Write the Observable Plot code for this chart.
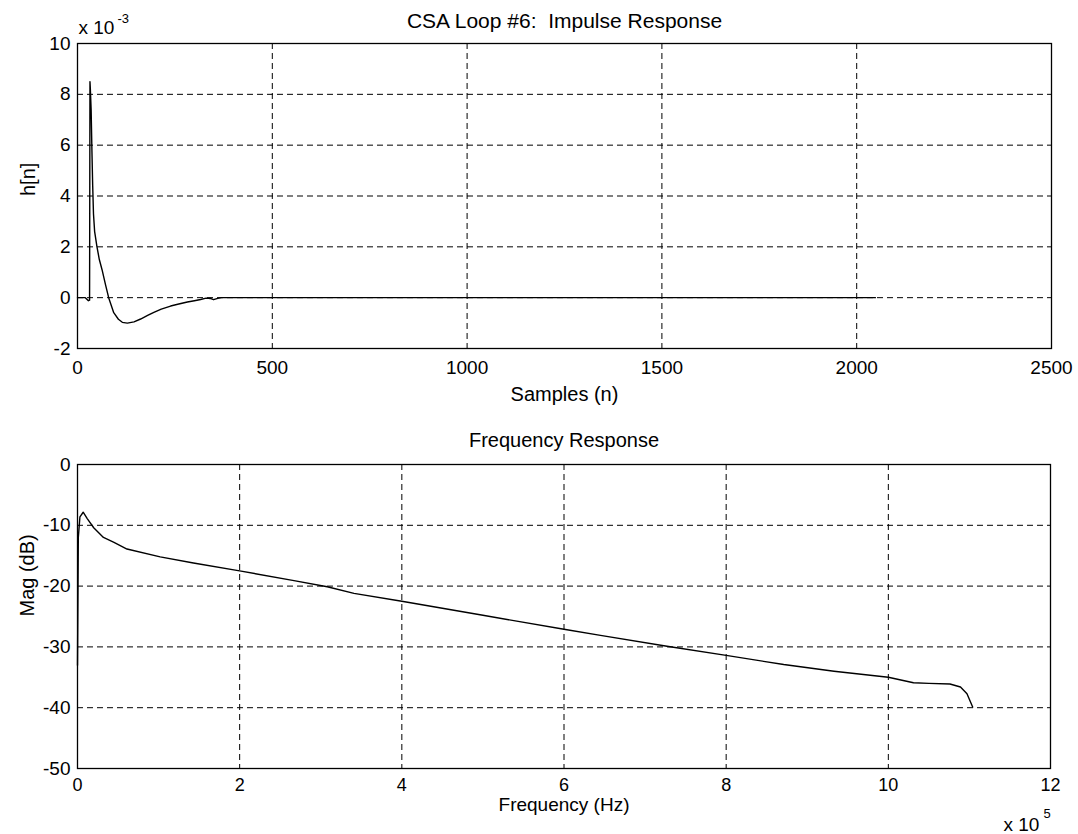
<!DOCTYPE html>
<html>
<head>
<meta charset="utf-8">
<script src="https://cdn.jsdelivr.net/npm/d3@7"></script>
<script src="https://cdn.jsdelivr.net/npm/@observablehq/plot@0.6"></script>
<style>
  html, body { margin: 0; padding: 0; background: #fff; }
  #wrap { position: relative; width: 1078px; height: 834px; background: #fff; overflow: hidden; }
  #top, #bottom { position: absolute; left: 0; }
  #top { top: 0; }
  #bottom { top: 420px; }
  svg { display: block; }
</style>
</head>
<body>
<div id="wrap"><div id="top"></div><div id="bottom"></div></div>
<script>
// ---- Impulse response (values in units of 1e-3) ----
const sampleN = [0, 20, 28, 31, 32, 33, 35, 37, 39, 41, 44, 50, 56, 63, 72, 80, 93, 105, 115, 128, 145, 162, 180, 196, 215, 239, 260, 282, 300, 316, 330, 341, 349, 360, 370, 400, 2048];
const impulseE3 = [0, 0, -0.12, -0.1, 8.5, 8.2, 7.4, 5.8, 4.4, 3.3, 2.6, 2.0, 1.5, 1.1, 0.5, 0, -0.59, -0.85, -0.97, -1.0, -0.95, -0.84, -0.7, -0.58, -0.45, -0.33, -0.25, -0.17, -0.12, -0.07, -0.02, -0.03, -0.08, -0.03, 0, 0, 0];

// ---- Frequency response (frequency in units of 1e5 Hz) ----
const freqE5 = [0, 0.01, 0.03, 0.07, 0.12, 0.2, 0.32, 0.45, 0.61, 1.02, 1.43, 2.0, 2.67, 3.08, 3.41, 4.0, 5.0, 6.0, 6.45, 7.27, 8.0, 8.71, 9.33, 10.0, 10.31, 10.5, 10.76, 10.89, 10.97, 11.04];
const magDb = [-33, -12, -8.6, -7.85, -8.9, -10.4, -12.0, -12.8, -13.9, -15.2, -16.2, -17.5, -19.1, -20.1, -21.2, -22.5, -24.8, -27.1, -28.1, -29.9, -31.4, -32.9, -34.0, -35.0, -35.9, -36.0, -36.1, -36.6, -37.7, -39.9];

// ---- Ticks ----
const topXTicks = [0, 500, 1000, 1500, 2000, 2500];
const topYTicks = [-2, 0, 2, 4, 6, 8, 10];
const botXTicks = [0, 2, 4, 6, 8, 10, 12];
const botYTicks = [-50, -40, -30, -20, -10, 0];

// ---- Texts ----
const topTitle = "CSA Loop #6:  Impulse Response";
const topXLabel = "Samples (n)";
const topYLabel = "h[n]";
const botTitle = "Frequency Response";
const botXLabel = "Frequency (Hz)";
const botYLabel = "Mag (dB)";

const impulse = sampleN.map((n, i) => ({n, h: impulseE3[i]}));
const freq = freqE5.map((f, i) => ({f, m: magDb[i]}));

const FONT = "Liberation Sans, Arial, Helvetica, sans-serif";
const dash = "6,4";
const fmt = d => String(d);

const topPlot = Plot.plot({
  width: 1078,
  height: 420,
  marginLeft: 77,
  marginRight: 27,
  marginTop: 43,
  marginBottom: 72,
  style: {fontFamily: FONT, fontSize: "19px", color: "black", background: "white"},
  x: {domain: [0, 2500], ticks: topXTicks, label: null},
  y: {domain: [-2, 10], ticks: topYTicks, label: null},
  marks: [
    Plot.gridX(topXTicks.slice(1, -1), {stroke: "black", strokeOpacity: 1, strokeWidth: 1, strokeDasharray: dash}),
    Plot.gridY(topYTicks.slice(1, -1), {stroke: "black", strokeOpacity: 1, strokeWidth: 1, strokeDasharray: dash}),
    Plot.axisX(topXTicks, {tickSize: 0, tickPadding: 12, fontSize: 19, tickFormat: fmt, label: null}),
    Plot.axisY(topYTicks, {tickSize: 0, tickPadding: 7, fontSize: 19, tickFormat: fmt, label: null}),
    Plot.line(impulse, {x: "n", y: "h", stroke: "black", strokeWidth: 1.4}),
    Plot.frame({stroke: "black", strokeWidth: 1.3}),
    Plot.text([topTitle], {frameAnchor: "top", dy: -22, fontSize: 21, lineAnchor: "middle"}),
    Plot.text([topXLabel], {frameAnchor: "bottom", dy: 46, fontSize: 20, lineAnchor: "middle"}),
    Plot.text([topYLabel], {frameAnchor: "left", dx: -49, rotate: -90, fontSize: 20, lineAnchor: "middle"}),
    Plot.text(["x 10"], {frameAnchor: "top-left", dx: 1, dy: -16, textAnchor: "start", fontSize: 19, lineAnchor: "middle"}),
    Plot.text(["-3"], {frameAnchor: "top-left", dx: 40, dy: -25, textAnchor: "start", fontSize: 13, lineAnchor: "middle"})
  ]
});

const botPlot = Plot.plot({
  width: 1078,
  height: 414,
  marginLeft: 77,
  marginRight: 28,
  marginTop: 44,
  marginBottom: 66,
  style: {fontFamily: FONT, fontSize: "19px", color: "black", background: "white"},
  x: {domain: [0, 12], ticks: botXTicks, label: null},
  y: {domain: [-50, 0], ticks: botYTicks, label: null},
  marks: [
    Plot.gridX(botXTicks.slice(1, -1), {stroke: "black", strokeOpacity: 1, strokeWidth: 1, strokeDasharray: dash}),
    Plot.gridY(botYTicks.slice(1, -1), {stroke: "black", strokeOpacity: 1, strokeWidth: 1, strokeDasharray: dash}),
    Plot.axisX(botXTicks, {tickSize: 0, tickPadding: 10, fontSize: 18, tickFormat: fmt, label: null}),
    Plot.axisY(botYTicks, {tickSize: 0, tickPadding: 7, fontSize: 19, tickFormat: fmt, label: null}),
    Plot.line(freq, {x: "f", y: "m", stroke: "black", strokeWidth: 1.4}),
    Plot.frame({stroke: "black", strokeWidth: 1.3}),
    Plot.text([botTitle], {frameAnchor: "top", dy: -24, fontSize: 20, lineAnchor: "middle"}),
    Plot.text([botXLabel], {frameAnchor: "bottom", dy: 36, fontSize: 19, lineAnchor: "middle"}),
    Plot.text([botYLabel], {frameAnchor: "left", dx: -50, rotate: -90, fontSize: 20, lineAnchor: "middle"}),
    Plot.text(["x 10"], {frameAnchor: "bottom-right", dx: -47, dy: 56, textAnchor: "start", fontSize: 19, lineAnchor: "middle"}),
    Plot.text(["5"], {frameAnchor: "bottom-right", dx: -7, dy: 45, textAnchor: "start", fontSize: 13, lineAnchor: "middle"})
  ]
});

document.getElementById("top").appendChild(topPlot);
document.getElementById("bottom").appendChild(botPlot);
</script>
</body>
</html>
